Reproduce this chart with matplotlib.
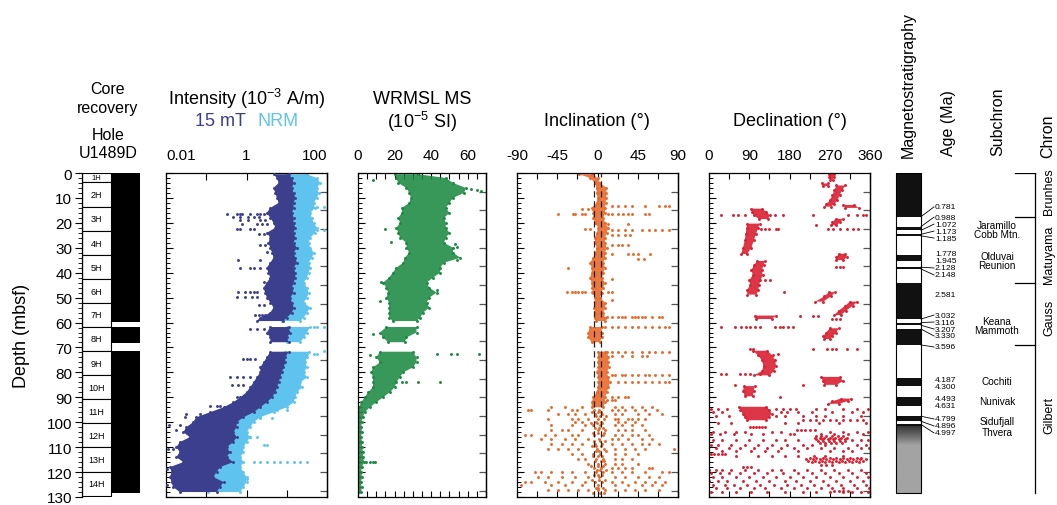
import numpy as np
import matplotlib
matplotlib.use("Agg")
import matplotlib.pyplot as plt
from matplotlib.patches import Rectangle
from matplotlib.ticker import FixedLocator, MultipleLocator, NullFormatter, FixedFormatter, LogLocator

plt.rcParams['font.family'] = ['Liberation Sans', 'DejaVu Sans']
plt.rcParams['mathtext.fontset'] = 'custom'
plt.rcParams['mathtext.rm'] = 'Liberation Sans'
plt.rcParams['mathtext.it'] = 'Liberation Sans:italic'
plt.rcParams['mathtext.bf'] = 'Liberation Sans:bold'
NaN = np.nan

# ---------------------------------------------------------------- data
core_names = ['1H', '2H', '3H', '4H', '5H', '6H', '7H', '8H', '9H', '10H', '11H', '12H', '13H', '14H']
core_top = [0.0, 3.8, 13.5, 23.3, 33.0, 42.5, 52.2, 61.6, 71.5, 81.2, 90.8, 100.4, 110.1, 119.8]
core_base = 129.5
recovery_top = [0.0, 61.6, 71.5]
recovery_base = [59.6, 68.1, 128.5]

depth_grid = [0.5, 2, 4, 6, 8, 10, 12, 14, 16, 18,
              20, 22, 24, 26, 28, 30, 32, 34, 36, 38,
              40, 42, 44, 46, 48, 50, 52, 54, 56, 58,
              59.4, NaN, 61.8, 64, 66, 67.9, NaN, 71.7, 74, 76,
              78, 80, 82, 84, 86, 88, 90, 92, 94, 96,
              98, 100, 102, 104, 106, 108, 110, 112, 114, 116,
              118, 120, 122, 124, 126, 128]

# intensity, 10^-3 A/m
mt15_lo = [4.7, 5.7, 6.3, 4.7, 5.2, 5.7, 6.3, 3.9, 3.2, 3.9,
           4.7, 5.2, 3.2, 3.9, 3.5, 3.9, 4.3, 4.7, 3.9, 3.2,
           3.5, 3.9, 3.2, 2.65, 2.9, 3.2, 3.9, 4.7, 3.9, 2.2,
           1.8, NaN, 3.9, 3.2, 3.9, 3.9, NaN, 3.9, 3.2, 2.65,
           2.2, 2.2, 1.8, 1.5, 1.23, 1.0, 0.7, 0.47, 0.27, 0.124,
           0.057, 0.047, 0.032, 0.027, 0.039, 0.022, 0.018, 0.022, 0.018, 0.027,
           0.0125, 0.0137, 0.0125, 0.0137, 0.015, 0.022]
mt15_hi = [11.1, 13.5, 14.8, 13.5, 14.8, 16.3, 14.8, 14.8, 13.5, 14.8,
           14.8, 16.3, 14.8, 16.3, 14.8, 17.9, 14.8, 16.3, 17.9, 14.8,
           16.3, 16.3, 14.8, 13.5, 14.8, 12.2, 13.5, 14.8, 13.5, 10.1,
           8.3, NaN, 11.1, 12.2, 10.1, 11.1, NaN, 11.1, 9.2, 9.2,
           8.3, 7.6, 6.9, 6.3, 5.7, 5.2, 4.3, 3.2, 2.2, 1.5,
           0.84, 0.57, 0.57, 0.47, 0.57, 0.47, 0.32, 0.39, 0.32, 0.47,
           0.22, 0.18, 0.15, 0.27, 0.22, 0.18]
nrm_lo = [10.1, 12.2, 13.5, 12.2, 13.5, 14.8, 13.5, 13.5, 12.2, 13.5,
          13.5, 14.8, 13.5, 14.8, 13.5, 16.3, 13.5, 14.8, 16.3, 13.5,
          14.8, 14.8, 13.5, 12.2, 13.5, 11.1, 12.2, 13.5, 12.2, 9.2,
          7.6, NaN, 10.1, 11.1, 9.2, 10.1, NaN, 9.2, 8.3, 8.3,
          7.6, 6.9, 6.3, 5.7, 5.2, 4.7, 3.9, 2.9, 2.0, 1.23,
          0.52, 0.36, 0.29, 0.24, 0.24, 0.2, 0.17, 0.11, 0.11, 0.14,
          0.095, 0.08, 0.095, 0.11, 0.11, 0.11]
nrm_hi = [31.8, 56, 68, 56, 62, 56, 47, 50, 38.5, 42,
          47, 56, 50, 38.5, 35, 38.5, 47, 42, 35, 38.5,
          35, 31.8, 26.3, 31.8, 35, 31.8, 26.3, 38.5, 31.8, 26.3,
          21.7, NaN, 38, 31.8, 26.3, 21.7, NaN, 35, 31.8, 28.9,
          31.8, 26.3, 31.8, 21.7, 23.9, 17.9, 16.3, 14.8, 10.1, 4.7,
          2.2, 1.5, 1.23, 1.0, 1.23, 1.0, 0.84, 0.84, 0.7, 0.84,
          0.7, 0.84, 1.0, 1.0, 0.84, 0.7]
mt15_out_depth = [16.3, 16.3, 16.3, 16.3, 16.3, 16.3, 16.3, 16.3, 17.7, 17.7, 17.7, 17.7, 17.7,
                  19.0, 19.0, 19.0, 19.0, 20.6, 20.6, 20.6, 20.6, 22.3, 22.3, 22.3, 22.3,
                  24.3, 24.3, 29.0, 29.0, 31.7, 34.8, 34.8, 38.1, 38.1, 38.1, 38.1, 43.7,
                  47.7, 47.7, 47.7, 47.7, 47.7, 49.8, 49.8, 49.8, 49.8, 53.1, 53.1,
                  57.0, 57.0, 57.0, 57.0, 62.5, 62.5, 62.5, 74.5, 74.5, 74.5, 74.5,
                  81.9, 81.9, 81.9, 81.9, 85.2, 85.2, 85.2, 89.9, 93.6, 93.6, 93.6,
                  96.6, 96.6, 96.6, 97.9, 101.2, 101.2, 103.2, 110.6, 110.6, 114.6, 114.6,
                  118.6, 118.6, 118.6, 125.3]
mt15_out_value = [0.32, 0.57, 0.7, 0.76, 1.23, 1.81, 2.19, 2.65, 0.47, 0.7, 1.1, 1.5, 2.0,
                  0.7, 1.1, 2.2, 2.9, 0.76, 1.8, 2.4, 3.2, 0.57, 0.7, 1.23, 1.5,
                  2.0, 2.65, 2.2, 2.9, 3.2, 0.63, 2.2, 0.7, 1.23, 1.5, 2.2, 2.65,
                  0.63, 0.92, 1.23, 1.5, 1.8, 0.57, 0.92, 1.35, 1.8, 2.0, 2.65,
                  1.65, 2.0, 2.4, 2.9, 1.23, 1.8, 2.65, 0.84, 1.0, 1.23, 1.65,
                  0.39, 0.57, 0.84, 1.23, 0.43, 0.63, 0.84, 0.57, 0.124, 0.18, 0.22,
                  0.032, 0.07, 0.124, 0.029, 0.012, 0.022, 0.018, 0.011, 0.015, 0.027, 0.047,
                  0.0105, 0.015, 0.02, 0.0105]
nrm_out_depth = [13.6, 13.6, 13.6, 23.0, 23.0, 61.7, 61.7, 61.7, 71.6, 72.5, 72.5, 72.5,
                 87.2, 87.2, 95.2, 95.2, 95.2, 98.5, 98.5, 98.5, 106.0, 106.0, 109.3, 109.3,
                 116.0, 116.0, 116.0, 116.0, 116.0, 116.0, 116.0, 116.0, 116.0, 122.6]
nrm_out_value = [38.5, 56, 83, 56, 83, 46.6, 56, 83, 83, 31.8, 46.6, 56,
                 10.1, 14.8, 3.9, 5.7, 10.1, 1.23, 2.2, 4.3, 1.23, 1.8, 2.65, 3.2,
                 1.5, 2.2, 3.2, 4.7, 6.9, 10.1, 14.8, 21.7, 31.8, 1.0]

# WRMSL magnetic susceptibility, 10^-5 SI
ms_lo = [20, 21, 22, 26.5, 28, 29, 28, 24, 24, 22,
         23, 21, 22, 23, 26.5, 26.5, 28, 25.6, 24.7, 21,
         19, 17, 13.7, 15.5, 16.5, 15.5, 17, 17, 17, 17,
         19, NaN, 15.5, 12, 13.7, 16.5, NaN, 12, 10, 12,
         8.2, 7.3, 8.2, 8.2, 8.2, 5.5, 3.7, 1.8, 0.5, 0.2,
         0.3, 0.2, 0.2, 0.3, 0.2, 0.3, 0.2, 0.5, 0.3, 0.5,
         0.2, 0.2, 0.3, 0.2, 0.2, 0.3]
ms_hi = [33, 48, 52, 59, 58, 52, 50, 48, 50, 47,
         48, 48, 50, 48, 47, 52, 52, 56, 47, 45,
         45, 41, 37.5, 39, 43, 39, 37.5, 39, 35.6, 34,
         32, NaN, 32, 32, 26.5, 25.6, NaN, 30, 32, 32,
         30, 24.7, 22.8, 21, 20, 17.4, 13.7, 10, 6.4, 3.7,
         2.6, 2.0, 1.8, 2.2, 1.6, 2.4, 2.0, 3.0, 2.6, 3.5,
         2.0, 1.8, 2.2, 1.6, 2.0, 1.8]
ms_out_depth = [2.9, 6.6, 7.0, 7.3, 22.3, 27.7, 28.4, 29.6, 35.0, 43.7, 47.0, 51.4, 64.5,
                72.5, 72.5, 72.5, 72.5, 73.0, 83.9, 83.9, 83.9, 83.9, 116.0, 116.0, 116.0, 116.0]
ms_out_value = [8.2, 62, 65, 67, 14.6, 18, 53, 54, 54, 12.8, 43, 11.9, 8.2,
                43, 51, 54, 66, 6.4, 23.8, 26.5, 33, 45, 4.6, 6.4, 8.2, 9.1]

# inclination, degrees
inc_lo = [-21, -8, -3, -1, -1, 0, -1, -6.6, -4.7, -4.7,
          -2.8, 0.9, -0.9, -2.8, -2.8, -0.9, -2.8, -4.7, -8.4, -6.6,
          -6.6, -8.4, -6.6, -6.6, -4.7, -2.8, -2.8, -3.5, -2.8, -2.8,
          -2, NaN, -8.4, -10.3, -10.3, -6.6, NaN, 0.2, 0.9, 0.2,
          0.9, -0.9, 0.9, 0.9, 0.2, -0.9, -4.7, -6.6, -6.6, NaN,
          NaN, NaN, NaN, NaN, NaN, NaN, NaN, NaN, NaN, NaN,
          NaN, NaN, NaN, NaN, NaN, NaN]
inc_hi = [-6, 0, 3, 10, 10, 10, 9, 8.4, 8.4, 6.5,
          8.4, 12, 10.3, 8.4, 8.4, 10.3, 8.4, 8.4, 6.5, 8.4,
          6.5, 4.7, 8.4, 6.5, 4.7, 2.8, 8.4, 8.4, 6.5, 8.4,
          8.4, NaN, 4.7, 4.7, 4.7, 2.8, NaN, 10.3, 12.2, 12.2,
          12.9, 10.3, 12.2, 14, 12.2, 10.3, 8.4, 8.4, 6.5, NaN,
          NaN, NaN, NaN, NaN, NaN, NaN, NaN, NaN, NaN, NaN,
          NaN, NaN, NaN, NaN, NaN, NaN]
inc_row_depth = [13.4, 14.3, 16.3, 20.3, 22.3, 23.0, 25.0, 29.0, 32.4, 34.4, 38.0, 42.4, 47.7, 50.8,
                 57.6, 61.8, 71.8, 73.6, 81.0, 84.0, 89.9, 91.0, 93.9, 95.2, 96.8, 98.6, 99.9,
                 101.2, 103.2, 105.3, 106.6, 108.6, 110.6, 112.6, 114.6, 116.6, 118.2, 120.0,
                 122.0, 124.0, 125.3, 127.3, 95.8, 97.7, 100.5, 102.2, 104.2, 107.5, 109.6,
                 111.6, 113.6, 115.6, 117.4, 119.1, 121.0, 123.0, 126.3, 128.2]
inc_row_values = [
    [15.9, 23.4, 30.9, 38.4, 53.3, 68.3, 75.8, 79.5],
    [-17.8, -10.3, -4.7],
    [-44.0, -27.1, -25.3, -17.8, -14.0, 12.2, 15.9, 23.4, 29.0, 34.6, 38.4, 53.3, 57.1],
    [12.2, 34.6],
    [-14.0, -8.4],
    [15.9, 23.4, 30.9, 38.4, 49.6, 57.1, 64.5, 72.0, 79.5],
    [15.9, 23.4, 30.9, 36.5],
    [15.9, 23.4, 27.1, 34.6],
    [15.9, 34.6, 40.2, 45.8, 58.9],
    [45.8, 51.5],
    [-32.7],
    [15.9],
    [-34.6, -29.0, -25.3, -21.5, -17.8, -14.0, -6.6, 12.2, 15.9],
    [15.9],
    [10.3, 15.9, 23.4, 27.1, 30.9, 38.4, 42.1, 45.8, 49.6, 53.3, 60.8, 68.3, 72.0],
    [8.4, 15.9, 23.4, 30.9, 38.4, 45.8, 53.3, 60.8, 68.3, 75.8, 79.5],
    [8.4, 15.9, 23.4, 30.9, 38.4, 49.6, 57.1, 64.5, 72.0, 79.5],
    [15.9, 27.1, 38.4, 49.6, 55.2],
    [15.9, 19.6, 27.1, 30.9, 38.4, 45.8, 53.3, 57.1, 64.5, 72.0, 79.5],
    [23.4, 30.9, 38.4, 45.8, 53.3, 60.8, 68.3, 75.8, 79.5],
    [15.9, 23.4, 30.9, 34.6],
    [10.3, 15.9, 19.6],
    [-51.5, -36.5, -17.8, 19.6, 27.1, 38.4, 49.6, 60.8],
    [-77.7, -73.9, -55.2, -29.0, -23.4, -4, 2, 15.9, 23.4, 30.9, 42.1, 53.3, 66.4],
    [-44.0, -32.7, -25.3, -14.0, -3, 5, 19.6, 27.1, 45.8, 57.1, 72.0],
    [-55.2, -29.0, -21.5, -10.3, 0, 7, 19.6, 23.4, 34.6, 38.4, 45.8, 53.3],
    [-25.3, -17.8, -2, 4, 23.4, 30.9, 42.1],
    [-51.5, -29.0, -14.0, -5, 3, 19.6, 27.1, 38.4, 49.6],
    [-51.5, -40.2, -32.7, -17.8, 1, 8.4, 23.4, 30.9, 38.4, 53.3],
    [-81.4, -73.9, -58.9, -47.7, -29.0, -21.5, -4, 6, 19.6, 27.1, 38.4, 45.8, 57.1],
    [-62.7, -51.5, -36.5, -25.3, -10.3, 2, 15.9, 23.4, 34.6, 49.6, 60.8],
    [-51.5, -40.2, -29.0, -17.8, -3, 5, 15.9, 27.1, 38.4, 49.6, 57.1, 68.3],
    [-55.2, -44.0, -32.7, -21.5, -1, 7, 19.6, 30.9, 42.1, 53.3, 85.1],
    [-29.0, -17.8, -5, 3, 19.6, 30.9, 45.8],
    [-21.5, -14.0, -2, 6, 19.6, 27.1, 38.4],
    [-10.3, 0, 8, 19.6, 27.1, 45.8],
    [-4, 4, 15.9, 23.4, 30.9, 38.4, 57.1, 60.8],
    [-70.2, -62.7, -51.5, -40.2, -29.0, -14.0, -2, 6, 15.9, 27.1, 38.4, 53.3, 72.0, 79.5],
    [-66.4, -55.2, -40.2, -25.3, -10.3, 2, 19.6, 30.9, 45.8, 57.1, 68.3],
    [-81.4, -73.9, -58.9, -44.0, -29.0, -14.0, -3, 5, 15.9, 27.1, 42.1, 53.3, 64.5, 75.8],
    [-85.1, -51.5, -36.5, -17.8, 1, 19.6, 34.6, 49.6, 60.8, 72.0],
    [-55.2, -44.0, -32.7, -21.5, -10.3, 0, 8, 19.6, 30.9, 42.1, 53.3, 68.3],
    [-6, 1, 4], [-2, 3, 9], [-7, -1, 5], [-3, 2, 6], [-5, 0, 7], [-4, 3, 8], [-6, -2, 4],
    [-2, 2, 9], [-5, 1, 5], [-3, 4, 7], [-7, 0, 6], [-1, 3, 10], [-4, 1, 5], [-6, 2, 8],
    [-2, 0, 6], [-5, 3, 7],
]

# declination, degrees: dense clusters (depth, lo, hi; NaN separates clusters) and scattered rows
dec_band_depth = [0.3, 1.5, 2.7, NaN, 4.2, 5.2, NaN,
                  5.0, 7, 9, 11, 12.5, 13.5, NaN, 12.8, 14.0, NaN,
                  14.3, 15.5, 17, 18.5, NaN, 18.4, 19.8, 21.0, NaN,
                  20.3, 22, 24.5, 27, 30, 32.5, NaN, 32.4, 33.8, 35.0, NaN,
                  35.3, 37, 39, 41, 43, 45, 47, 48.8, NaN, 47.8, 49.5, 51.6, NaN,
                  51.6, 53.2, 55.2, 57.0, NaN, 57.2, 58.6, NaN, 62.3, 64, 65.6, 66.6, NaN,
                  71.3, 73.2, 75.2, 77.5, 79.5, 81.2, NaN, 81.8, 83.5, 85.0, NaN,
                  85.5, 87.5, 89.6, NaN, 90.5, 91.6, 92.6, NaN,
                  93.8, 95, 96.5, 98, 99.2]
dec_band_lo = [268, 268, 270, NaN, 252, 254, NaN,
               285, 280, 276, 270, 262, 258, NaN, 300, 305, NaN,
               95, 96, 100, 112, NaN, 283, 276, 272, NaN,
               86, 84, 82, 80, 76, 72, NaN, 290, 285, 285, NaN,
               108, 100, 95, 98, 90, 92, 85, 86, NaN, 268, 258, 238, NaN,
               315, 305, 290, 280, NaN, 102, 105, NaN, 270, 262, 255, 258, NaN,
               98, 110, 118, 122, 118, 100, NaN, 250, 255, 258, NaN,
               78, 76, 80, NaN, 295, 275, 266, NaN,
               68, 70, 75, 80, 85]
dec_band_hi = [280, 279, 278, NaN, 266, 266, NaN,
               305, 297, 292, 287, 280, 272, NaN, 325, 335, NaN,
               118, 128, 136, 132, NaN, 300, 293, 285, NaN,
               113, 110, 105, 100, 95, 85, NaN, 305, 308, 300, NaN,
               125, 122, 118, 120, 115, 112, 110, 106, NaN, 282, 273, 255, NaN,
               332, 322, 307, 295, NaN, 150, 140, NaN, 290, 285, 276, 270, NaN,
               130, 142, 148, 150, 145, 135, NaN, 292, 300, 285, NaN,
               102, 100, 98, NaN, 318, 310, 290, NaN,
               128, 135, 140, 135, 128]
dec_row_depth = [16.8, 21.0, 22.3, 37.7, 43.0, 47.7, 57.2, 58.4, 61.8, 70.6, 72.5, 80.5, 85.2, 89.9,
                 94.5, 96.0, 97.5, 99.2, 100.5, 101.9, 103.2, 103.9, 104.6,
                 105.6, 106.2, 106.8, 107.5, 108.2, 107.0, 109.0, 110.5,
                 111.5, 112.6, 113.5, 114.2, 114.8, 115.4, 116.0, 117.0, 118.0, 119.0, 120.5,
                 122.0, 123.5, 125.0, 126.5, 127.5, 127.8]
dec_row_values = [
    [27.6, 53.8, 65, 80, 147, 166, 233, 311, 330, 345, 352],
    [240],
    [117, 125, 135, 150, 155, 267, 278, 293, 308, 323, 334],
    [285, 293, 300],
    [125, 136],
    [168],
    [203, 233, 244],
    [274, 283, 293],
    [27.6, 57.5, 72.5, 83.7, 91, 102, 113.5, 147, 158, 166, 177, 188],
    [91, 99, 233, 263, 274, 285, 308, 330],
    [154],
    [27.6, 38.8, 68.7, 80, 91, 113.5],
    [57.5, 210],
    [158],
    [5, 20, 40, 150, 165, 180, 195, 240, 260, 300, 330, 355],
    [10, 30, 160, 175, 200, 230, 275, 320, 345],
    [15, 45, 150, 170, 210, 240, 260, 300, 340],
    [210, 225, 240, 255, 270, 285, 300, 315, 330, 345],
    [20, 50, 170, 200, 245, 290, 350],
    [91, 98, 105, 112, 118, 125],
    [196, 205, 215, 225, 237],
    [10, 35, 60, 80, 140, 160, 270, 300, 330, 355],
    [5, 25, 55, 95, 120, 180, 190, 250, 280, 310, 345],
    [240, 250, 262, 275, 288, 300],
    [237, 248, 258, 270, 282, 295, 308],
    [240, 252, 265, 278, 290, 303],
    [243, 256, 268, 280, 293, 305],
    [248, 260, 272, 285, 298],
    [10, 30, 60, 90, 120, 150, 170, 200, 320, 340, 355],
    [5, 20, 50, 80, 110, 140, 175, 210, 230, 260, 330, 350],
    [15, 45, 70, 100, 130, 160, 190, 220, 250, 280, 310, 340, 357],
    [30, 60, 95, 125, 155, 200, 270, 300, 320],
    [5, 12, 20, 28, 35],
    [60, 110, 140, 170, 200, 235, 260, 300],
    [225, 240, 255, 270, 285, 300, 315, 330, 340],
    [218, 232, 248, 262, 278, 292, 308, 322, 338, 352],
    [222, 237, 252, 268, 283, 298, 313, 328, 345],
    [230, 245, 260, 275, 290, 305, 320, 335],
    [250, 262, 275],
    [76, 85, 95],
    [0, 15, 30, 50, 80, 110, 140, 160, 190, 220, 250, 280, 310, 340],
    [5, 25, 45, 70, 100, 130, 165, 200, 230, 260, 290, 320, 350],
    [10, 30, 60, 90, 120, 150, 180, 210, 240, 270, 300, 330, 355],
    [0, 20, 40, 75, 105, 135, 170, 195, 225, 255, 285, 315, 345],
    [8, 35, 55, 85, 115, 145, 175, 205, 235, 265, 295, 325, 350],
    [15, 40, 70, 100, 125, 160, 190, 220, 250, 275, 300, 330, 358],
    [280, 290, 300, 310],
    [5, 30, 60, 95, 130, 170, 210, 240, 270, 300, 320, 340, 355],
]

# magnetostratigraphy: reversal ages (Ma) and their depths (mbsf)
age_ma = [0.781, 0.988, 1.072, 1.173, 1.185, 1.778, 1.945, 2.128, 2.148, 2.581, 3.032,
          3.116, 3.207, 3.330, 3.596, 4.187, 4.300, 4.493, 4.631, 4.799, 4.896, 4.997]
age_depth = [17.5, 21.5, 23.0, 24.6, 25.2, 32.9, 35.2, 37.8, 38.5, 44.1, 58.6,
             60.0, 61.1, 62.6, 69.0, 82.3, 85.6, 90.0, 93.4, 97.6, 99.6, 100.9]
column_base = 128.4
subchron_names = ['Jaramillo', 'Cobb Mtn.', 'Olduvai', 'Reunion', 'Keana', 'Mammoth',
                  'Cochiti', 'Nunivak', 'Sidufjall', 'Thvera']
chron_names = ['Brunhes', 'Matuyama', 'Gauss', 'Gilbert']
chron_top_depth = [0.0, 17.5, 44.1, 69.0]

# ---------------------------------------------------------------- layout / style
W, H = 1057, 506
Y_TOP, Y_BOT = 174, 498
C_MT15 = '#3c3f8e'
C_NRM = '#5ec3ee'
C_MS = '#1b8a43'
C_INC = '#e8692b'
C_DEC = '#da2032'
DOT = 4.5

age_label_depth = [13.6, 17.7, 20.5, 23.3, 26.1, 32.1, 35.3, 38.1, 40.9, 48.6, 57.0,
                   59.8, 62.6, 65.4, 69.8, 82.7, 85.5, 90.3, 93.3, 98.7, 101.5, 104.3]
age_leader = [1, 1, 1, 1, 1, 0, 0, 1, 1, 0, 1, 1, 1, 1, 1, 0, 0, 0, 0, 1, 1, 1]
subchron_label_depth = [20.9, 24.5, 33.3, 36.9, 59.4, 63.0, 83.5, 91.5, 99.5, 103.9]
chron_label_depth = [7.0, 32.5, 57.8, 96.7]

fig = plt.figure(figsize=(W / 100, H / 100), dpi=100)
fig.patch.set_facecolor('white')


def px_axes(x0, x1):
    return fig.add_axes([x0 / W, 1 - Y_BOT / H, (x1 - x0) / W, (Y_BOT - Y_TOP) / H])


def ftext(x, y, s, **kw):
    fig.text(x / W, 1 - y / H, s, **kw)


def style_panel(ax, xmaj_len=5, xmin_len=3):
    ax.set_ylim(130, 0)
    for sp in ax.spines.values():
        sp.set_linewidth(0.9)
    ax.yaxis.set_major_locator(MultipleLocator(10))
    ax.yaxis.set_minor_locator(MultipleLocator(2))
    ax.tick_params(axis='y', which='both', direction='in', left=True, right=False, labelleft=False)
    ax.tick_params(axis='y', which='major', length=5, width=0.8)
    ax.tick_params(axis='y', which='minor', length=3, width=0.7)
    ax.tick_params(axis='x', which='both', direction='in', top=True, bottom=True,
                   labeltop=True, labelbottom=False, labelsize=11, pad=8, width=0.8)
    ax.tick_params(axis='x', which='major', length=xmaj_len)
    ax.tick_params(axis='x', which='minor', length=xmin_len)
    sec = ax.secondary_yaxis('right')
    sec.set_yticks(np.arange(7.5, 130, 7.5))
    sec.tick_params(direction='in', length=5, width=0.9, color='#555555', labelright=False)
    sec.spines['right'].set_linewidth(0.9)


def band(ax, dep, lo, hi, color, z=2, alpha=1.0):
    d = np.array(dep, dtype=float)
    lo = np.array(lo, dtype=float)
    hi = np.array(hi, dtype=float)
    ax.fill_betweenx(d, lo, hi, color=color, lw=0, zorder=z, alpha=alpha)
    ax.scatter(lo, d, s=DOT, color=color, lw=0, zorder=z)
    ax.scatter(hi, d, s=DOT, color=color, lw=0, zorder=z)


# ---------------------------------------------------------------- core recovery
axc = px_axes(82, 140)
axc.set_xlim(0, 2)
axc.set_ylim(130, 0)
for s in ['top', 'right', 'bottom']:
    axc.spines[s].set_visible(False)
axc.spines['left'].set_linewidth(0.9)
axc.set_xticks([])
axc.yaxis.set_major_locator(MultipleLocator(10))
axc.yaxis.set_minor_locator(MultipleLocator(2))
axc.tick_params(axis='y', which='major', direction='out', length=5, width=0.8, labelsize=11, pad=2)
axc.tick_params(axis='y', which='minor', direction='out', length=3, width=0.6)
tops = core_top + [core_base]
for i, name in enumerate(core_names):
    t, b = tops[i], tops[i + 1]
    axc.add_patch(Rectangle((0, t), 1, b - t, facecolor='white', edgecolor='black', lw=0.8))
    axc.text(0.5, (t + b) / 2, name, ha='center', va='center', fontsize=6.5 if i else 5.5)
for t, b in zip(recovery_top, recovery_base):
    axc.add_patch(Rectangle((1, t), 1, b - t, facecolor='black', edgecolor='none'))

# ---------------------------------------------------------------- intensity
axi = px_axes(166, 327)
axi.set_xscale('log')
axi.set_xlim(0.01, 100)
style_panel(axi, 5, 3)
axi.xaxis.set_major_locator(FixedLocator([0.01, 0.1, 1, 10, 100]))
axi.xaxis.set_minor_locator(LogLocator(base=10, subs=np.arange(2, 10)))
axi.xaxis.set_major_formatter(NullFormatter())
axi.xaxis.set_minor_formatter(NullFormatter())
band(axi, depth_grid, nrm_lo, nrm_hi, C_NRM, 2)
axi.scatter(nrm_out_value, nrm_out_depth, s=DOT, color=C_NRM, lw=0, zorder=2)
band(axi, depth_grid, mt15_lo, mt15_hi, C_MT15, 3)
axi.scatter(mt15_out_value, mt15_out_depth, s=DOT, color=C_MT15, lw=0, zorder=3)
tr = axi.get_xaxis_transform()
for v, lab, ha in [(0.01, '0.01', 'left'), (1, '1', 'center'), (100, '100', 'right')]:
    axi.text(v, 1 + 11.1 / (Y_BOT - Y_TOP), lab, transform=tr, ha=ha, va='bottom', fontsize=11)

# ---------------------------------------------------------------- MS
axm = px_axes(358, 486)
axm.set_xlim(0, 70)
style_panel(axm, 4, 4)
axm.xaxis.set_major_locator(FixedLocator([0, 20, 40, 60]))
axm.xaxis.set_minor_locator(MultipleLocator(5))
axm.xaxis.set_major_formatter(FixedFormatter(['0', '20', '40', '60']))
band(axm, depth_grid, ms_lo, ms_hi, C_MS, 2, alpha=0.88)
axm.scatter(ms_out_value, ms_out_depth, s=DOT, color=C_MS, lw=0, zorder=2)

# ---------------------------------------------------------------- inclination
axn = px_axes(517, 678)
axn.set_xlim(-90, 90)
style_panel(axn, 4.5, 4.5)
axn.xaxis.set_major_locator(FixedLocator([-90, -45, 0, 45, 90]))
axn.xaxis.set_minor_locator(FixedLocator([-67.5, -22.5, 22.5, 67.5]))
axn.xaxis.set_major_formatter(FixedFormatter(['-90', '-45', '0', '45', '90']))
band(axn, depth_grid, inc_lo, inc_hi, C_INC, 2, alpha=0.9)
inc_d = np.repeat(inc_row_depth, [len(r) for r in inc_row_values])
inc_v = np.concatenate([np.array(r, dtype=float) for r in inc_row_values])
axn.scatter(inc_v, inc_d, s=DOT, color=C_INC, lw=0, zorder=2)
for xv in (-4, 4):
    axn.axvline(xv, color='#222222', lw=0.9, ls=(0, (5, 3)), zorder=4)

# ---------------------------------------------------------------- declination
axd = px_axes(709, 870)
axd.set_xlim(0, 360)
style_panel(axd, 4.5, 4.5)
axd.xaxis.set_major_locator(FixedLocator([0, 90, 180, 270, 360]))
axd.xaxis.set_minor_locator(FixedLocator([45, 135, 225, 315]))
axd.xaxis.set_major_formatter(FixedFormatter(['0', '90', '180', '270', '360']))
band(axd, dec_band_depth, dec_band_lo, dec_band_hi, C_DEC, 2, alpha=0.9)
dec_d = np.repeat(dec_row_depth, [len(r) for r in dec_row_values])
dec_v = np.concatenate([np.array(r, dtype=float) for r in dec_row_values])
axd.scatter(dec_v, dec_d, s=DOT, color=C_DEC, lw=0, zorder=2)

# ---------------------------------------------------------------- magnetostratigraphy column & labels
axa = px_axes(880, 1057)
axa.axis('off')
CX0, CX1 = 896, 921
bounds = [0.0] + list(age_depth)
for k in range(0, len(bounds) - 1, 2):
    axa.add_patch(Rectangle((CX0, bounds[k]), CX1 - CX0, bounds[k + 1] - bounds[k],
                            facecolor='#111111', edgecolor='none', zorder=2))
thvera_top = age_depth[-1]
axa.add_patch(Rectangle((CX0, thvera_top), CX1 - CX0, 0.5, facecolor='#111111', edgecolor='none', zorder=2))
grad = np.concatenate([np.linspace(0.18, 0.64, 60), np.full(140, 0.64)])[:, None]
axa.imshow(grad, extent=(CX0, CX1, column_base, thvera_top + 0.5), origin='upper',
           aspect='auto', cmap='gray', vmin=0, vmax=1, zorder=1)
axa.add_patch(Rectangle((CX0, 0), CX1 - CX0, column_base, facecolor='none',
                        edgecolor='black', lw=0.8, zorder=3))
axa.set_xlim(880, 1057)
axa.set_ylim(130, 0)
for a, d, ld, lead in zip(age_ma, age_depth, age_label_depth, age_leader):
    if lead:
        axa.plot([CX1, 934], [d, ld], color='black', lw=0.6, zorder=3)
    axa.text(935, ld, f'{a:.3f}', ha='left', va='center', fontsize=6.1)
for name, ld in zip(subchron_names, subchron_label_depth):
    axa.text(997, ld, name, ha='center', va='center', fontsize=7.2)
axa.plot([1035, 1035], [0, column_base], color='black', lw=0.9)
for b in chron_top_depth:
    axa.plot([1015, 1035], [b, b], color='black', lw=0.9)
for name, ld in zip(chron_names, chron_label_depth):
    axa.text(1049, ld, name, rotation=90, ha='center', va='center', fontsize=9)

# ---------------------------------------------------------------- headers
ftext(108, 89, 'Core', ha='center', va='center', fontsize=11.5)
ftext(108, 108, 'recovery', ha='center', va='center', fontsize=11.5)
ftext(108, 135, 'Hole', ha='center', va='center', fontsize=11.5)
ftext(108, 153, 'U1489D', ha='center', va='center', fontsize=11.5)
ftext(22, 336, 'Depth (mbsf)', ha='center', va='center', rotation=90, fontsize=13)
ftext(246, 99, r'Intensity (10$^{\mathrm{-3}}$ A/m)', ha='center', va='center', fontsize=13)
ftext(220, 122, '15 mT', ha='center', va='center', fontsize=13, color=C_MT15)
ftext(278, 122, 'NRM', ha='center', va='center', fontsize=13, color=C_NRM)
ftext(422, 99, 'WRMSL MS', ha='center', va='center', fontsize=13)
ftext(422, 122, r'(10$^{\mathrm{-5}}$ SI)', ha='center', va='center', fontsize=13)
ftext(597, 122, 'Inclination (°)', ha='center', va='center', fontsize=13)
ftext(790, 122, 'Declination (°)', ha='center', va='center', fontsize=13)
ftext(908, 158, 'Magnetostratigraphy', ha='center', va='bottom', rotation=90, fontsize=11.5)
ftext(948, 156, 'Age (Ma)', ha='center', va='bottom', rotation=90, fontsize=11.5)
ftext(998, 156, 'Subchron', ha='center', va='bottom', rotation=90, fontsize=11.5)
ftext(1048, 158, 'Chron', ha='center', va='bottom', rotation=90, fontsize=11.5)

fig.savefig('out.png', dpi=100, facecolor='white')
